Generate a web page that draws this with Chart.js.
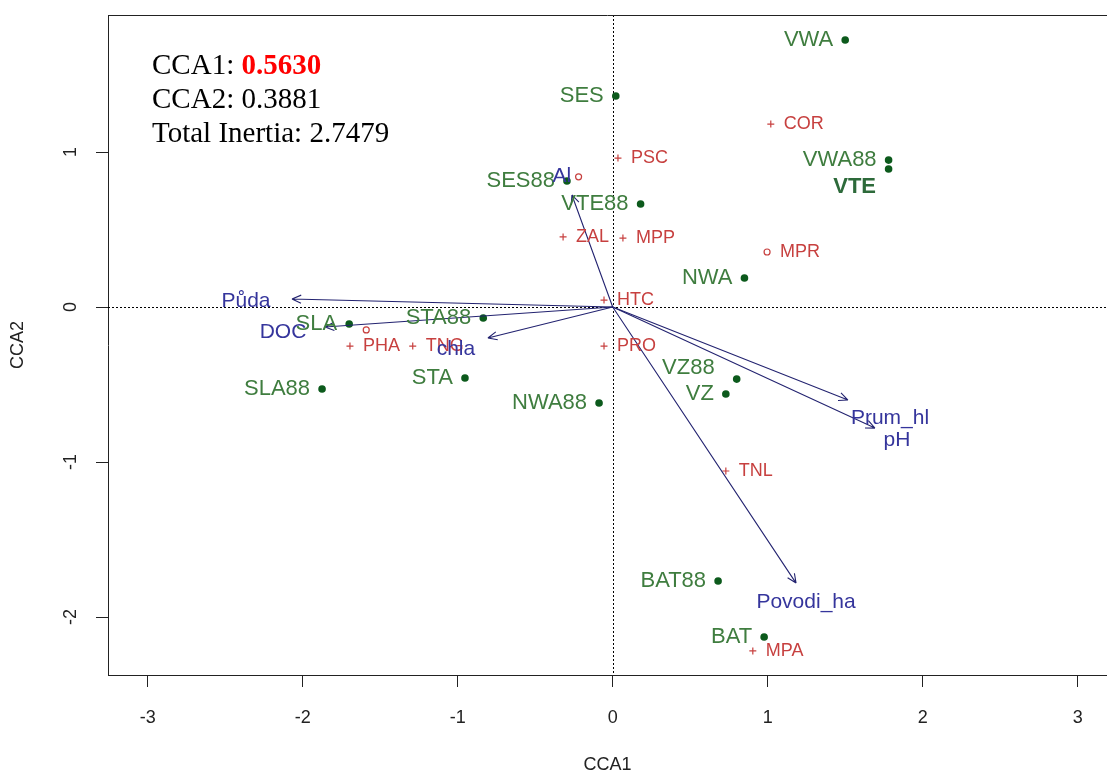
<!DOCTYPE html>
<html>
<head>
<meta charset="utf-8">
<script src="https://cdn.jsdelivr.net/npm/chart.js@4/dist/chart.umd.min.js"></script>
<style>
  html, body { margin: 0; padding: 0; background: #fff; }
  canvas { display: block; }
</style>
</head>
<body>
<canvas id="cca" width="1107" height="776"></canvas>
<script>
// site scores
const siteNames = ['VWA', 'SES', 'VWA88', 'VTE', 'SES88', 'VTE88', 'NWA', 'STA88', 'SLA', 'STA', 'SLA88', 'NWA88', 'VZ88', 'VZ', 'BAT88', 'BAT'];
const siteX = [1.50, 0.02, 1.78, 1.78, -0.295, 0.18, 0.85, -0.835, -1.70, -0.953, -1.875, -0.088, 0.80, 0.73, 0.68, 0.977];
const siteY = [1.723, 1.361, 0.948, 0.89, 0.813, 0.665, 0.187, -0.071, -0.11, -0.458, -0.529, -0.619, -0.465, -0.561, -1.768, -2.129];

// species scores ('' = species plotted without a label)
const speciesNames = ['COR', 'PSC', '', 'ZAL', 'MPP', 'MPR', 'HTC', 'PRO', 'PHA', '', 'TNG', 'TNL', 'MPA'];
const speciesX = [1.02, 0.034, -0.22, -0.32, 0.066, 0.996, -0.056, -0.056, -1.695, -1.59, -1.29, 0.73, 0.904];
const speciesY = [1.18, 0.961, 0.84, 0.452, 0.445, 0.355, 0.045, -0.252, -0.252, -0.148, -0.252, -1.058, -2.219];
const speciesSymbol = ['+', '+', 'o', '+', '+', 'o', '+', '+', '+', 'o', '+', '+', '+'];

// environmental vectors (biplot arrows)
const envNames = ['Půda', 'DOC', 'chla', 'Al', 'Prum_hl', 'pH', 'Povodi_ha'];
const envX = [-2.069, -1.856, -0.805, -0.263, 1.518, 1.692, 1.183];
const envY = [0.052, -0.129, -0.20, 0.723, -0.60, -0.781, -1.781];

// axes
const xTicks = [-3, -2, -1, 0, 1, 2, 3];
const yTicks = [-2, -1, 0, 1];

// eigenvalue summary
const summaryLines = [
  ['CCA1: ', '0.5630'],
  ['CCA2: ', '0.3881'],
  ['Total Inertia: ', '2.7479']
];

// label placement
const SITE_COL = '#3f7d3f', SITE_PT = '#0c5a1c';
const SPEC_COL = '#c7403f';
const ENV_COL = '#35359c', ARROW_COL = '#232370';
const siteLabelShift = {
  VTE: {dx: -34, dy: 18, align: 'center', bold: true},
  VZ88: {dx: -22, dy: -11, align: 'right'}
};
const envLabelShift = {
  'Půda': [-46, 2], DOC: [-42, 5], chla: [-32, 11], Al: [-10, -19],
  Prum_hl: [42, 18], pH: [22, 12], Povodi_ha: [10, 19]
};

const SANS = '"Liberation Sans", Arial, sans-serif';
const SERIF = '"Liberation Serif", "Times New Roman", serif';

const zeroLines = {
  id: 'zeroLines',
  beforeDatasetsDraw(chart) {
    const {ctx, chartArea: a, scales: {x, y}} = chart;
    const x0 = Math.round(x.getPixelForValue(0)) + 0.5;
    const y0 = Math.round(y.getPixelForValue(0)) + 0.5;
    ctx.save();
    ctx.strokeStyle = '#000';
    ctx.lineWidth = 1;
    ctx.setLineDash([2, 2]);
    ctx.beginPath();
    ctx.moveTo(a.left, y0); ctx.lineTo(a.right, y0);
    ctx.moveTo(x0, a.top); ctx.lineTo(x0, a.bottom);
    ctx.stroke();
    ctx.setLineDash([]);
    // frame top edge
    ctx.strokeStyle = '#222';
    ctx.beginPath();
    ctx.moveTo(a.left, a.top + 0.5); ctx.lineTo(a.right, a.top + 0.5);
    ctx.stroke();
    ctx.restore();
  }
};

const biplot = {
  id: 'biplot',
  afterDatasetsDraw(chart) {
    const {ctx, scales: {x, y}} = chart;
    const ox = x.getPixelForValue(0), oy = y.getPixelForValue(0);
    ctx.save();

    // arrows
    ctx.strokeStyle = ARROW_COL;
    ctx.lineWidth = 1.1;
    envNames.forEach((n, i) => {
      const tx = x.getPixelForValue(envX[i]), ty = y.getPixelForValue(envY[i]);
      const ang = Math.atan2(ty - oy, tx - ox);
      ctx.beginPath();
      ctx.moveTo(ox, oy); ctx.lineTo(tx, ty);
      for (const s of [-1, 1]) {
        ctx.moveTo(tx, ty);
        ctx.lineTo(tx - 10 * Math.cos(ang + s * 0.42), ty - 10 * Math.sin(ang + s * 0.42));
      }
      ctx.stroke();
    });

    // site labels
    ctx.textBaseline = 'middle';
    siteNames.forEach((n, i) => {
      const px = x.getPixelForValue(siteX[i]), py = y.getPixelForValue(siteY[i]);
      const s = siteLabelShift[n] || {dx: -12, dy: 0, align: 'right'};
      ctx.font = (s.bold ? 'bold ' : '') + '22px ' + SANS;
      ctx.fillStyle = s.bold ? '#2d6a3a' : SITE_COL;
      ctx.textAlign = s.align;
      ctx.fillText(n, px + s.dx, py + s.dy);
    });

    // species labels
    ctx.font = '18px ' + SANS;
    ctx.fillStyle = SPEC_COL;
    ctx.textAlign = 'left';
    speciesNames.forEach((n, i) => {
      if (!n) return;
      const px = x.getPixelForValue(speciesX[i]), py = y.getPixelForValue(speciesY[i]);
      ctx.fillText(n, px + 13, py);
    });

    // environmental labels
    ctx.font = '21px ' + SANS;
    ctx.fillStyle = ENV_COL;
    ctx.textAlign = 'center';
    envNames.forEach((n, i) => {
      const [dx, dy] = envLabelShift[n];
      ctx.fillText(n, x.getPixelForValue(envX[i]) + dx, y.getPixelForValue(envY[i]) + dy);
    });

    // eigenvalue summary
    ctx.textAlign = 'left';
    ctx.textBaseline = 'alphabetic';
    summaryLines.forEach(([lab, val], i) => {
      const by = 74 + i * 33.8;
      ctx.font = '29px ' + SERIF;
      ctx.fillStyle = '#000';
      ctx.fillText(lab, 152, by);
      const w = ctx.measureText(lab).width;
      if (i === 0) {
        ctx.font = 'bold 29px ' + SERIF;
        ctx.fillStyle = '#f00';
      }
      ctx.fillText(val, 152 + w, by);
    });
    ctx.restore();
  }
};

const tickFont = {family: SANS, size: 18};

new Chart(document.getElementById('cca'), {
  type: 'scatter',
  data: {
    datasets: [
      {
        label: 'sites',
        data: siteX.map((v, i) => ({x: v, y: siteY[i]})),
        pointStyle: 'circle',
        pointRadius: 3.8,
        backgroundColor: SITE_PT,
        borderColor: SITE_PT,
        borderWidth: 0
      },
      {
        label: 'species',
        data: speciesX.map((v, i) => ({x: v, y: speciesY[i]})),
        pointStyle: speciesSymbol.map(s => s === '+' ? 'cross' : 'circle'),
        pointRadius: speciesSymbol.map(s => s === '+' ? 3.5 : 3),
        backgroundColor: 'rgba(0,0,0,0)',
        borderColor: SPEC_COL,
        borderWidth: 1.2
      }
    ]
  },
  options: {
    responsive: false,
    animation: false,
    devicePixelRatio: 1,
    layout: {autoPadding: false, padding: {top: 15, right: 0, bottom: 0, left: 0}},
    plugins: {legend: {display: false}, tooltip: {enabled: false}},
    scales: {
      x: {
        type: 'linear',
        position: 'bottom',
        min: -3.256,
        max: 3.189,
        afterBuildTicks: s => { s.ticks = xTicks.map(v => ({value: v})); },
        afterFit: s => { s.height = 101; s.paddingLeft = 0; s.paddingRight = 0; },
        grid: {drawOnChartArea: false, tickLength: 12, tickColor: '#222', tickWidth: 1},
        border: {display: true, color: '#222', width: 1},
        ticks: {color: '#222', font: tickFont, padding: 20, maxRotation: 0, autoSkip: false},
        title: {display: true, text: 'CCA1', color: '#222', font: tickFont, padding: {top: 0, bottom: 0}}
      },
      y: {
        type: 'linear',
        position: 'left',
        min: -2.374,
        max: 1.884,
        afterBuildTicks: s => { s.ticks = yTicks.map(v => ({value: v})); },
        afterFit: s => { s.width = 108; s.paddingTop = 0; s.paddingBottom = 0; },
        grid: {drawOnChartArea: false, tickLength: 12, tickColor: '#222', tickWidth: 1},
        border: {display: true, color: '#222', width: 1},
        ticks: {color: '#222', font: tickFont, padding: 17, minRotation: 90, maxRotation: 90, crossAlign: 'center', autoSkip: false},
        title: {display: true, text: 'CCA2', color: '#222', font: tickFont, padding: {top: 7, bottom: 0}}
      }
    }
  },
  plugins: [zeroLines, biplot]
});
</script>
</body>
</html>
